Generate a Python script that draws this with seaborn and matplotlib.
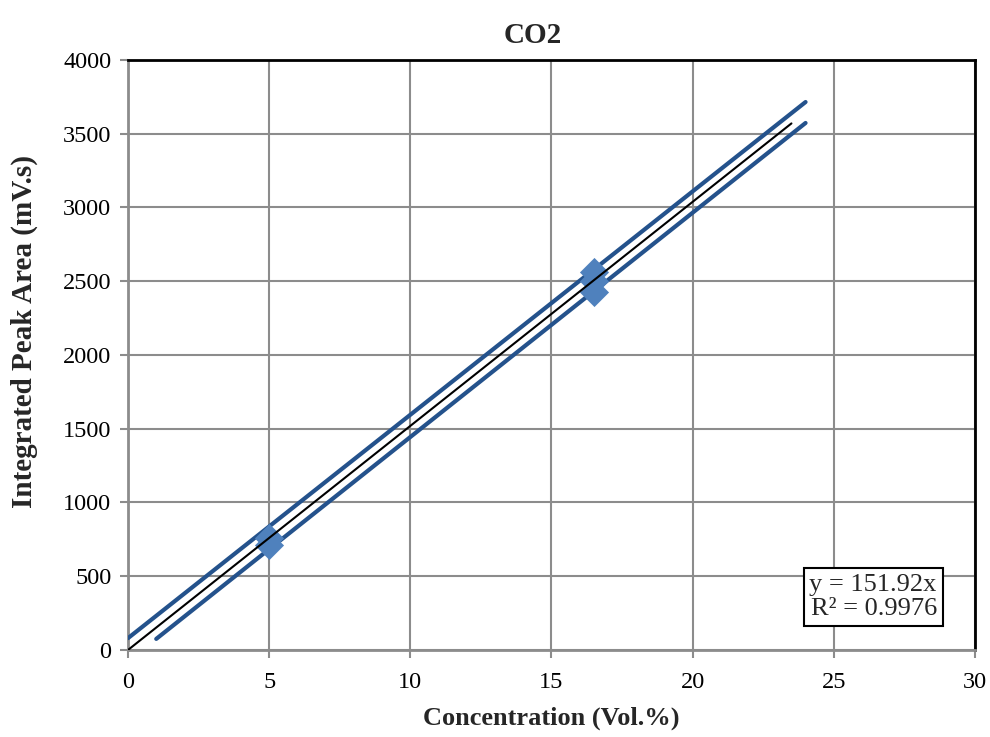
import pandas as pd
import matplotlib
matplotlib.use("Agg")
import matplotlib.pyplot as plt
import seaborn as sns

# measured calibration points
conc = [5, 5, 16.5, 16.5, 16.5]
area = [760, 715, 2560, 2500, 2430]

# linear trendline through origin, y = 151.92x
trend_x = [0, 23.5]
trend_y = [0, 3570]

# upper / lower bands
upper_x = [0, 24]
upper_y = [80, 3715]
lower_x = [1, 24]
lower_y = [75, 3573]

sns.set_style("white")
plt.rcParams['font.family'] = ['Liberation Serif', 'DejaVu Serif']

fig = plt.figure(figsize=(9.9, 7.37), dpi=100)
ax = fig.add_axes([0.1293, 0.1181, 0.8555, 0.8005])

band = "#24528C"
sns.lineplot(x=upper_x, y=upper_y, ax=ax, color=band, linewidth=3, zorder=3)
sns.lineplot(x=lower_x, y=lower_y, ax=ax, color=band, linewidth=3, zorder=3)
sns.scatterplot(x=conc, y=area, ax=ax, marker="D", s=220, color="#4F81BD",
                edgecolor="#4F81BD", linewidth=0, zorder=4)
sns.lineplot(x=trend_x, y=trend_y, ax=ax, color="black", linewidth=1.5, zorder=5)

ax.set_xlim(0, 30)
ax.set_ylim(0, 4000)
ax.set_xticks(range(0, 31, 5))
ax.set_yticks(range(0, 4001, 500))
ax.grid(True, color="#8C8C8C", linewidth=1.5)
ax.set_axisbelow(True)

for side in ["top", "right"]:
    ax.spines[side].set_color("black")
    ax.spines[side].set_linewidth(2)
for side in ["left", "bottom"]:
    ax.spines[side].set_color("#8C8C8C")
    ax.spines[side].set_linewidth(2)

ax.tick_params(axis="both", direction="out", length=6, width=1.5, color="#8C8C8C",
               labelsize=17.5, labelcolor="black", left=True, bottom=True)
ax.tick_params(axis="x", pad=10)
ax.tick_params(axis="y", pad=6)

ax.set_title("CO2", fontsize=21, fontweight="bold", x=0.478, pad=12)
ax.set_xlabel("Concentration (Vol.%)", fontsize=19, fontweight="bold", labelpad=10)
ax.set_ylabel("Integrated Peak Area (mV.s)", fontsize=21, fontweight="bold")
ax.yaxis.set_label_coords(-0.106, 0.539)

ax.text(0.955, 0.05, "y = 151.92x\nR² = 0.9976", transform=ax.transAxes,
        ha="right", va="bottom", fontsize=19, linespacing=1.15,
        bbox=dict(boxstyle="square,pad=0.22", facecolor="white", edgecolor="black", linewidth=1.5))

fig.savefig("out.png", dpi=100)
